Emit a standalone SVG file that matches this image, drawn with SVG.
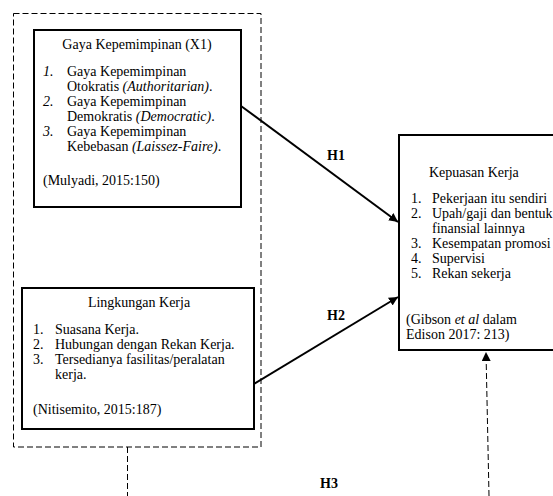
<svg xmlns="http://www.w3.org/2000/svg" width="553" height="496" viewBox="0 0 553 496">
<style>
text{font-family:'Liberation Serif','DejaVu Serif',serif;font-size:14px;fill:#000}
.b{font-weight:bold}
.i{font-style:italic}
.box{fill:#fff;stroke:#000;stroke-width:2}
.dash{fill:none;stroke:#000;stroke-width:1;stroke-dasharray:6 3}
.arr{fill:none;stroke:#000;stroke-width:2}
</style>
<defs>
<marker id="ah" viewBox="0 0 10 10" refX="10" refY="5" markerWidth="9" markerHeight="9" markerUnits="userSpaceOnUse" orient="auto">
<path d="M0,0L10,5L0,10z" fill="#000"/>
</marker>
</defs>
<rect width="553" height="496" fill="#fff"/>
<g id="group-x">
<rect class="dash" x="13.5" y="13.5" width="247.5" height="433.5"/>
</g>
<g id="connectors" font-family="Liberation Serif">
<line class="arr" x1="241" y1="106" x2="398" y2="222" marker-end="url(#ah)"/>
<line class="arr" x1="254" y1="384" x2="398" y2="297" marker-end="url(#ah)"/>
<line class="dash" x1="127.5" y1="447" x2="127.5" y2="496"/>
<line class="dash" x1="489" y1="496" x2="486" y2="352" marker-end="url(#ah)"/>
<text class="b" x="336" y="160" text-anchor="middle">H1</text>
<text class="b" x="336" y="320" text-anchor="middle">H2</text>
<text class="b" x="329" y="488" text-anchor="middle">H3</text>
</g>
<g id="gaya" font-family="Liberation Serif">
<rect class="box" x="34" y="30" width="207" height="177"/>
<text x="137" y="49" text-anchor="middle">Gaya Kepemimpinan (X1)</text>
<text class="i" x="43" y="76">1.</text>
<text x="67" y="76">Gaya Kepemimpinan</text>
<text x="67" y="91">Otokratis <tspan class="i">(Authoritarian)</tspan>.</text>
<text class="i" x="43" y="106">2.</text>
<text x="67" y="106">Gaya Kepemimpinan</text>
<text x="67" y="121">Demokratis <tspan class="i">(Democratic)</tspan>.</text>
<text class="i" x="43" y="136">3.</text>
<text x="67" y="136">Gaya Kepemimpinan</text>
<text x="67" y="151">Kebebasan <tspan class="i">(Laissez-Faire)</tspan>.</text>
<text x="43" y="185">(Mulyadi, 2015:150)</text>
</g>
<g id="lingkungan" font-family="Liberation Serif">
<rect class="box" x="22" y="288" width="232" height="141"/>
<text x="139" y="307" text-anchor="middle">Lingkungan Kerja</text>
<text x="33" y="334">1.</text>
<text x="55" y="334">Suasana Kerja.</text>
<text x="33" y="349">2.</text>
<text x="55" y="349">Hubungan dengan Rekan Kerja.</text>
<text x="33" y="364">3.</text>
<text x="55" y="364">Tersedianya fasilitas/peralatan</text>
<text x="55" y="379">kerja.</text>
<text x="33" y="414">(Nitisemito, 2015:187)</text>
</g>
<g id="kepuasan" font-family="Liberation Serif">
<rect class="box" x="399" y="135" width="170" height="215"/>
<text x="429" y="177">Kepuasan Kerja</text>
<text x="411" y="203">1.</text>
<text x="432" y="203">Pekerjaan itu sendiri</text>
<text x="411" y="218">2.</text>
<text x="432" y="218">Upah/gaji dan bentuk</text>
<text x="432" y="233">finansial lainnya</text>
<text x="411" y="248">3.</text>
<text x="432" y="248">Kesempatan promosi</text>
<text x="411" y="263">4.</text>
<text x="432" y="263">Supervisi</text>
<text x="411" y="278">5.</text>
<text x="432" y="278">Rekan sekerja</text>
<text x="406" y="324">(Gibson <tspan class="i">et al</tspan> dalam</text>
<text x="406" y="339">Edison 2017: 213)</text>
</g>
</svg>
